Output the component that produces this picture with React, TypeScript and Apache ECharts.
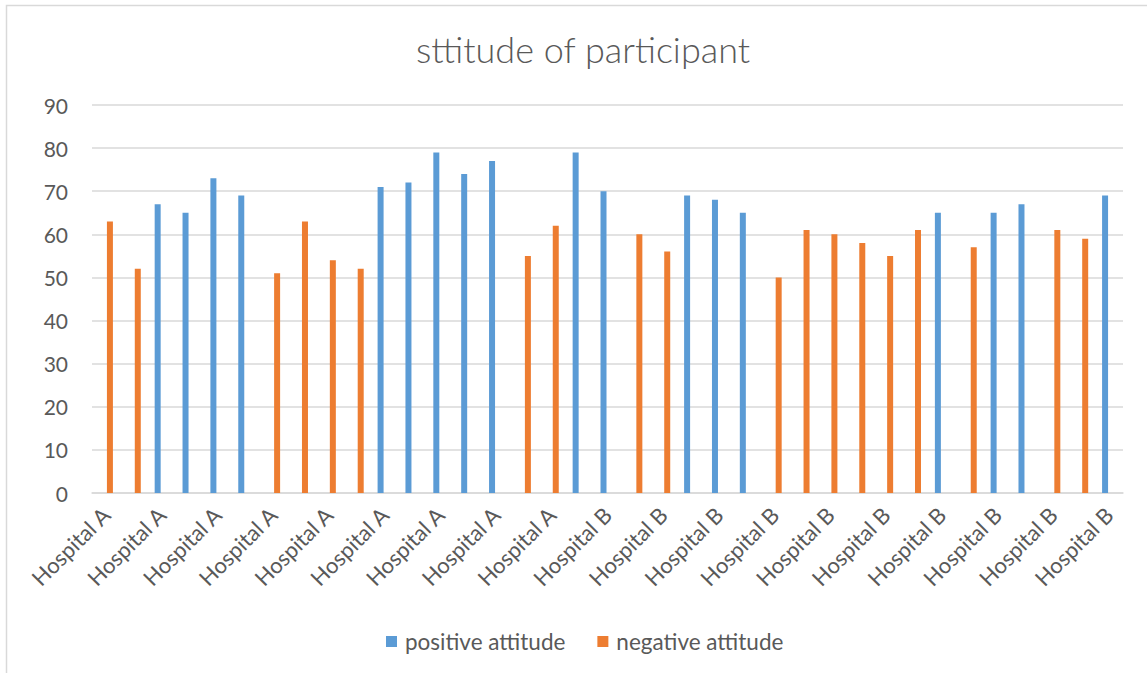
import React, { useEffect, useRef } from "react";
import * as echarts from "echarts";

const categories = [
  "Hospital A", "Hospital A", "Hospital A", "Hospital A", "Hospital A", "Hospital A",
  "Hospital A", "Hospital A", "Hospital A", "Hospital A", "Hospital A", "Hospital A",
  "Hospital A", "Hospital A", "Hospital A", "Hospital A", "Hospital A", "Hospital A",
  "Hospital B", "Hospital B", "Hospital B", "Hospital B", "Hospital B", "Hospital B",
  "Hospital B", "Hospital B", "Hospital B", "Hospital B", "Hospital B", "Hospital B",
  "Hospital B", "Hospital B", "Hospital B", "Hospital B", "Hospital B", "Hospital B",
  "Hospital B",
];

const positiveAttitude = [
  null, null, 67, 65, 73, 69, null, null, null, null, 71, 72, 79, 74, 77, null, null, 79,
  70, null, null, 69, 68, 65, null, null, null, null, null, null, 65, null, 65, 67, null, null, 69,
];

const negativeAttitude = [
  63, 52, null, null, null, null, 51, 63, 54, 52, null, null, null, null, null, 55, 62, null,
  null, 60, 56, null, null, null, 50, 61, 60, 58, 55, 61, null, 57, null, null, 61, 59, null,
];

const seriesNames = ["positive attitude", "negative attitude"];
const titleText = "sttitude of participant";

const FONT = "Lato, 'Open Sans', sans-serif";
const TEXT = "#595959";
const GRID = "#D9D9D9";

export default function App() {
  const ref = useRef<HTMLDivElement>(null);
  useEffect(() => {
    if (!ref.current) return;
    const chart = echarts.init(ref.current, undefined, { renderer: "svg" });
    chart.setOption({
      animation: false,
      backgroundColor: "#ffffff",
      textStyle: { fontFamily: FONT },
      title: {
        text: titleText,
        left: 578,
        textAlign: "center",
        top: 26,
        textStyle: { fontFamily: FONT, fontSize: 36, fontWeight: 300, color: TEXT },
      },
      graphic: [
        {
          type: "rect",
          shape: { x: 6.5, y: 5.5, width: 1300, height: 800 },
          style: { fill: "none", stroke: GRID, lineWidth: 1.5 },
          silent: true,
        },
      ],
      legend: {
        left: 381,
        top: 625,
        itemWidth: 11,
        itemHeight: 11,
        itemGap: 32,
        icon: "rect",
        textStyle: { fontFamily: FONT, fontSize: 22.5, color: TEXT, padding: [0, 0, 0, 3] },
        data: seriesNames,
      },
      grid: { left: 92, right: 24, top: 105, bottom: 180, containLabel: false },
      xAxis: {
        type: "category",
        data: categories,
        axisLine: { show: true, lineStyle: { color: GRID, width: 1.5 } },
        axisTick: { show: false },
        axisLabel: {
          interval: 1,
          rotate: 45,
          margin: 18,
          color: TEXT,
          fontFamily: FONT,
          fontSize: 22,
        },
      },
      yAxis: {
        type: "value",
        min: 0,
        max: 90,
        interval: 10,
        axisLine: { show: false },
        axisTick: { show: false },
        splitLine: { lineStyle: { color: GRID, width: 1.5 } },
        axisLabel: { color: TEXT, fontFamily: FONT, fontSize: 21, margin: 24 },
      },
      series: [
        {
          name: seriesNames[0],
          type: "bar",
          data: positiveAttitude,
          barWidth: 6,
          barGap: "33%",
          itemStyle: { color: "#5B9BD5" },
        },
        {
          name: seriesNames[1],
          type: "bar",
          data: negativeAttitude,
          barWidth: 6,
          barGap: "33%",
          itemStyle: { color: "#ED7D31" },
        },
      ],
    });
    return () => chart.dispose();
  }, []);
  return (
    <div
      ref={ref}
      style={{ position: "absolute", left: 0, top: 0, width: 1147, height: 673 }}
    />
  );
}
